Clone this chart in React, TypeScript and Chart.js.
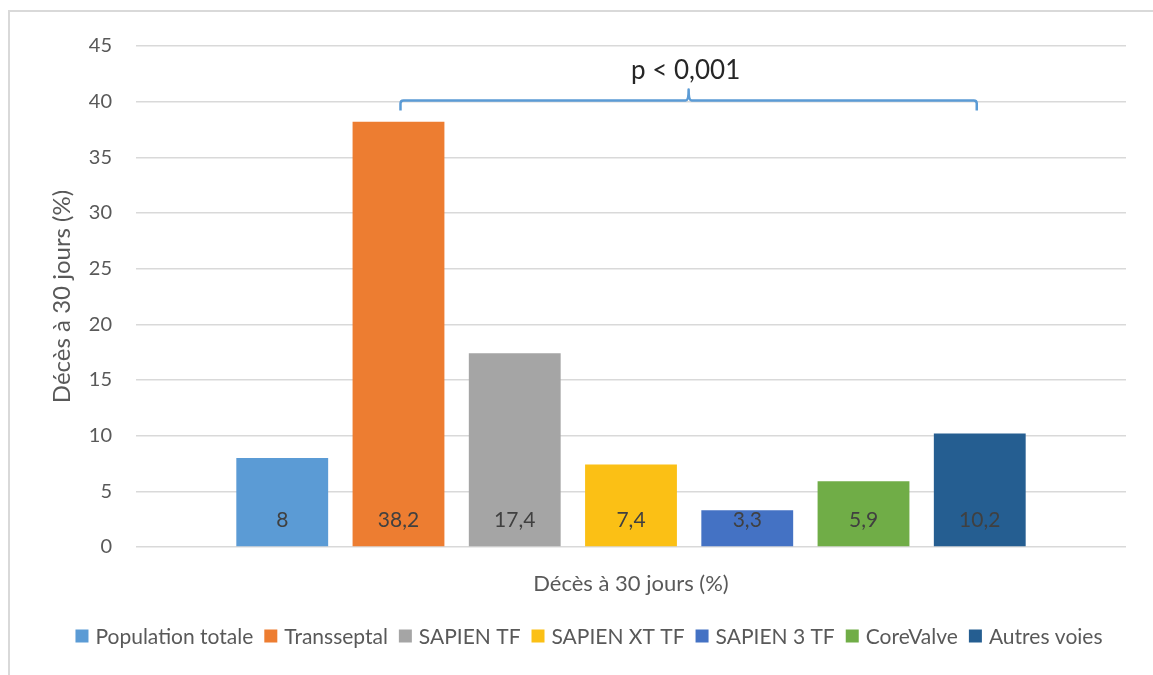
import React, { useEffect, useRef } from "react";
import { Chart, registerables } from "chart.js";

Chart.register(...registerables);

const categories = ["Décès à 30 jours (%)"];
const seriesNames = [
  "Population totale",
  "Transseptal",
  "SAPIEN TF",
  "SAPIEN XT TF",
  "SAPIEN 3 TF",
  "CoreValve",
  "Autres voies",
];
const seriesValues = [8, 38.2, 17.4, 7.4, 3.3, 5.9, 10.2];
const seriesColors = ["#5B9BD5", "#ED7D31", "#A5A5A5", "#FBC015", "#4472C4", "#70AD47", "#255E91"];
const yTicks = [0, 5, 10, 15, 20, 25, 30, 35, 40, 45];
const yAxisTitle = "Décès à 30 jours (%)";
const pText = "p < 0,001";
const bracketFrom = 1;
const bracketTo = 6;
const bracketLevel = 40.1;
const bracketEndLevel = 39.2;
const bracketTipLevel = 41.1;
const pTextLevel = 42.8;

const FONT = "Lato, 'DejaVu Sans', sans-serif";
const TEXT = "#595959";

const fmt = (v: number) => String(v).replace(".", ",");

const barLabelPlugin = {
  id: "barLabels",
  afterDatasetsDraw(chart: any) {
    const ctx = chart.ctx;
    const y0 = chart.scales.y.getPixelForValue(0);
    ctx.save();
    ctx.font = `21px ${FONT}`;
    ctx.fillStyle = "#404040";
    ctx.textAlign = "center";
    ctx.textBaseline = "middle";
    chart.data.datasets.forEach((ds: any, i: number) => {
      const el = chart.getDatasetMeta(i).data[0];
      if (!el) return;
      ctx.fillText(fmt(ds.data[0]), el.x, y0 - 27);
    });
    ctx.restore();
  },
};

const bracketPlugin = {
  id: "bracket",
  afterDatasetsDraw(chart: any) {
    const ctx = chart.ctx;
    const ys = chart.scales.y;
    const a = chart.getDatasetMeta(bracketFrom).data[0];
    const b = chart.getDatasetMeta(bracketTo).data[0];
    if (!a || !b) return;
    const x1 = a.x + 2;
    const x2 = b.x - 3;
    const xm = (x1 + x2) / 2;
    const yl = ys.getPixelForValue(bracketLevel);
    const ye = ys.getPixelForValue(bracketEndLevel);
    const yt = ys.getPixelForValue(bracketTipLevel);
    const r = 3;
    ctx.save();
    ctx.strokeStyle = "#5B9BD5";
    ctx.lineWidth = 2.5;
    ctx.lineJoin = "round";
    ctx.beginPath();
    ctx.moveTo(x1, ye);
    ctx.lineTo(x1, yl + r);
    ctx.quadraticCurveTo(x1, yl, x1 + r, yl);
    ctx.lineTo(xm - r, yl);
    ctx.quadraticCurveTo(xm, yl, xm, yt);
    ctx.quadraticCurveTo(xm, yl, xm + r, yl);
    ctx.lineTo(x2 - r, yl);
    ctx.quadraticCurveTo(x2, yl, x2, yl + r);
    ctx.lineTo(x2, ye);
    ctx.stroke();
    ctx.font = `26px ${FONT}`;
    ctx.fillStyle = "#262626";
    ctx.textAlign = "center";
    ctx.textBaseline = "middle";
    ctx.fillText(pText, xm - 3, ys.getPixelForValue(pTextLevel));
    ctx.restore();
  },
};

const legendPlugin = {
  id: "customLegend",
  afterDraw(chart: any) {
    const ctx = chart.ctx;
    const box = 13;
    const gapBoxText = 7;
    const gapItems = 11;
    ctx.save();
    ctx.font = `21px ${FONT}`;
    ctx.textBaseline = "middle";
    ctx.textAlign = "left";
    const widths = seriesNames.map((n) => ctx.measureText(n).width);
    const total =
      widths.reduce((s, w) => s + w + box + gapBoxText, 0) + gapItems * (seriesNames.length - 1);
    const cx = (chart.chartArea.left + chart.chartArea.right) / 2 - 42;
    let x = cx - total / 2;
    const yc = 636;
    seriesNames.forEach((n, i) => {
      ctx.fillStyle = seriesColors[i];
      ctx.fillRect(x, yc - box / 2, box, box);
      x += box + gapBoxText;
      ctx.fillStyle = TEXT;
      ctx.fillText(n, x, yc + 1);
      x += widths[i] + gapItems;
    });
    ctx.restore();
  },
};

export default function App() {
  const ref = useRef<HTMLCanvasElement | null>(null);
  useEffect(() => {
    if (!ref.current) return;
    const chart = new Chart(ref.current, {
      type: "bar",
      data: {
        labels: categories,
        datasets: seriesNames.map((name, i) => ({
          label: name,
          data: [seriesValues[i]],
          backgroundColor: seriesColors[i],
          borderWidth: 0,
          categoryPercentage: 0.822,
          barPercentage: 0.79,
        })),
      },
      options: {
        animation: false,
        responsive: false,
        maintainAspectRatio: false,
        layout: { padding: { top: 46, right: 27, left: 0, bottom: 60 } },
        plugins: {
          tooltip: { enabled: false },
          legend: { display: false },
        },
        scales: {
          x: {
            grid: { display: false },
            border: { display: false },
            ticks: {
              color: TEXT,
              padding: 16,
              font: { family: FONT, size: 22 },
            },
            afterFit(scale: any) {
              scale.height = 68;
            },
          },
          y: {
            min: 0,
            max: 45,
            afterBuildTicks(scale: any) {
              scale.ticks = yTicks.map((v) => ({ value: v }));
            },
            grid: { color: "#D9D9D9", lineWidth: 1.5, drawTicks: false },
            border: { display: false },
            ticks: {
              color: TEXT,
              padding: 24,
              font: { family: FONT, size: 20 },
            },
            title: {
              display: true,
              text: yAxisTitle,
              color: TEXT,
              font: { family: FONT, size: 24 },
              padding: { top: 48, bottom: 0 },
            },
            afterFit(scale: any) {
              scale.width = 136;
            },
          },
        },
      },
      plugins: [barLabelPlugin, bracketPlugin, legendPlugin],
    });
    return () => chart.destroy();
  }, []);
  return (
    <div>
      <div
        style={{
          position: "fixed",
          left: 8,
          top: 10,
          width: 1200,
          height: 700,
          border: "2px solid #D9D9D9",
          boxSizing: "border-box",
        }}
      />
      <canvas
        ref={ref}
        width={1153}
        height={675}
        style={{ position: "fixed", left: 0, top: 0, width: 1153, height: 675 }}
      />
    </div>
  );
}
